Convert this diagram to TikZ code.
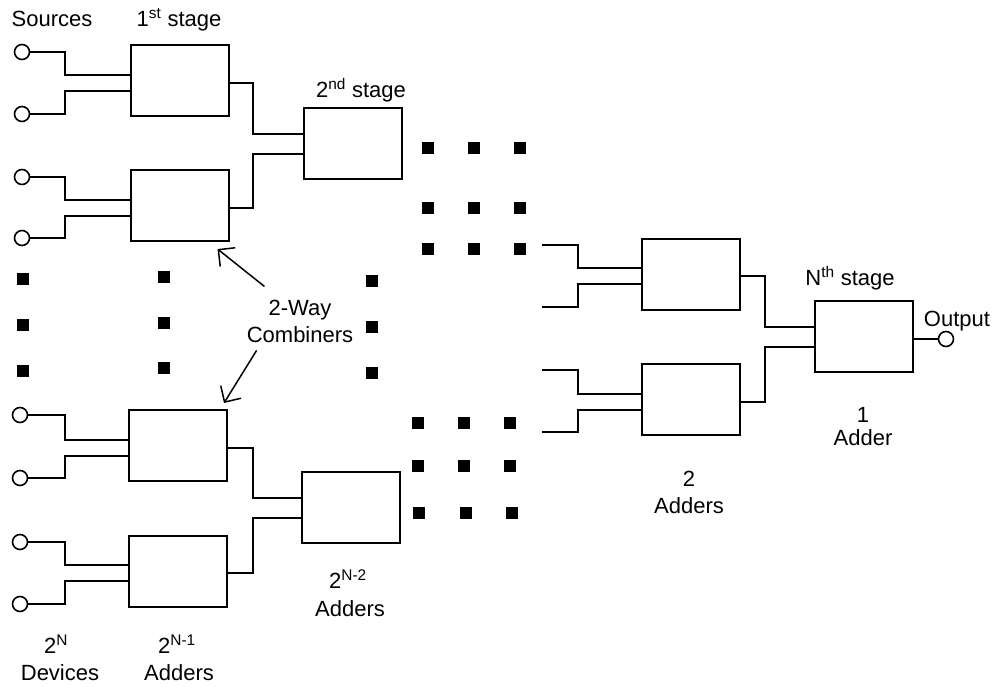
\documentclass[tikz,border=0pt]{standalone}
\usepackage{fontspec}
\setmainfont{Liberation Sans}
\usetikzlibrary{arrows.meta}
\begin{document}
\begin{tikzpicture}[x=1pt,y=-1pt,
  wire/.style={line width=2pt},
  adder/.style={draw,line width=2pt,rectangle,minimum width=98pt,minimum height=71pt,inner sep=0pt,outer sep=0pt},
  port/.style={draw,line width=1.6pt,circle,minimum size=15pt,inner sep=0pt,outer sep=0pt,fill=white},
  lbl/.style={font=\fontsize{22}{26}\selectfont,anchor=base,inner sep=0pt},
  dotsq/.style={fill=black},
  callout/.style={line width=1.5pt,-{Straight Barb[length=12pt,width=24pt,line width=1.5pt]}}
]
\useasboundingbox (0,0) rectangle (996,686);
% jog x positions
\coordinate (j1) at (65,0);
\coordinate (j2) at (253,0);
\coordinate (j3) at (578,0);
\coordinate (j4) at (765,0);
% sources
\node[port] (s1) at (22,52) {};
\node[port] (s2) at (22,114) {};
\node[port] (s3) at (22,177) {};
\node[port] (s4) at (22,238) {};
\node[port] (s5) at (20,415) {};
\node[port] (s6) at (20,478) {};
\node[port] (s7) at (20,542) {};
\node[port] (s8) at (20,604) {};
% adders
\node[adder] (b1) at (179.5,80.5) {};
\node[adder] (b2) at (179.5,205.5) {};
\node[adder] (c1) at (353,143.5) {};
\node[adder] (b3) at (178,445.5) {};
\node[adder] (b4) at (178,571) {};
\node[adder] (c2) at (351,507.5) {};
\node[adder] (ra) at (691,274) {};
\node[adder] (rb) at (691,399.5) {};
\node[adder] (rn) at (864,336.5) {};
\node[port] (out) at (946,339) {};
% free ends
\coordinate (fa1) at (542,245);
\coordinate (fa2) at (542,307);
\coordinate (fb1) at (542,370);
\coordinate (fb2) at (542,432);
% source wires
\draw[wire] (s1.east) -- (s1.east -| j1) |- ([shift={(0,-6)}]b1.west);
\draw[wire] (s2.east) -- (s2.east -| j1) |- ([shift={(0,10)}]b1.west);
\draw[wire] (s3.east) -- (s3.east -| j1) |- ([shift={(0,-6)}]b2.west);
\draw[wire] (s4.east) -- (s4.east -| j1) |- ([shift={(0,10)}]b2.west);
\draw[wire] (s5.east) -- (s5.east -| j1) |- ([shift={(0,-6)}]b3.west);
\draw[wire] (s6.east) -- (s6.east -| j1) |- ([shift={(0,10)}]b3.west);
\draw[wire] (s7.east) -- (s7.east -| j1) |- ([shift={(0,-6)}]b4.west);
\draw[wire] (s8.east) -- (s8.east -| j1) |- ([shift={(0,10)}]b4.west);
% stage 1 -> stage 2
\draw[wire] ([shift={(0,2)}]b1.east) -- ([shift={(0,2)}]b1.east -| j2) |- ([shift={(0,-9.5)}]c1.west);
\draw[wire] ([shift={(0,2)}]b2.east) -- ([shift={(0,2)}]b2.east -| j2) |- ([shift={(0,10)}]c1.west);
\draw[wire] ([shift={(0,2)}]b3.east) -- ([shift={(0,2)}]b3.east -| j2) |- ([shift={(0,-9.5)}]c2.west);
\draw[wire] ([shift={(0,2)}]b4.east) -- ([shift={(0,2)}]b4.east -| j2) |- ([shift={(0,10)}]c2.west);
% right side
\draw[wire] (fa1) -- (fa1 -| j3) |- ([shift={(0,-6)}]ra.west);
\draw[wire] (fa2) -- (fa2 -| j3) |- ([shift={(0,10)}]ra.west);
\draw[wire] (fb1) -- (fb1 -| j3) |- ([shift={(0,-6)}]rb.west);
\draw[wire] (fb2) -- (fb2 -| j3) |- ([shift={(0,10)}]rb.west);
\draw[wire] ([shift={(0,2)}]ra.east) -- ([shift={(0,2)}]ra.east -| j4) |- ([shift={(0,-9.5)}]rn.west);
\draw[wire] ([shift={(0,2)}]rb.east) -- ([shift={(0,2)}]rb.east -| j4) |- ([shift={(0,10.5)}]rn.west);
\draw[wire] ([shift={(0,2.5)}]rn.east) -- (out.west);
% dots
\foreach \x/\y in {428/148,474/148,520/148,428/208,474/208,520/208,428/249,474/249,520/249,
                   418/423,464/423,510/423,418/466,464/466,510/466,419/513,466/513,512/513,
                   23/279,23/325,23/371,164/277,164/323,164/368,372/281,372/327,372/373}
  \fill[dotsq] (\x-6.25,\y-6.25) rectangle (\x+6.25,\y+6.25);
% labels
\node[lbl] (tsrc) at (52,26) {Sources};
\node[lbl] (tst1) at (179,26) {1\textsuperscript{st} stage};
\node[lbl] (tst2) at (361,97) {2\textsuperscript{nd} stage};
\node[lbl] (tstn) at (850,285) {N\textsuperscript{th} stage};
\node[lbl] (tout) at (957,326) {Output};
\node[lbl] (tway) at (300,315) {2-Way};
\node[lbl] (tcomb) at (300,342) {Combiners};
\node[lbl] (tn1) at (863,422) {1};
\node[lbl] (tn1b) at (863,445) {Adder};
\node[lbl] (tn2) at (689,486) {2};
\node[lbl] (tn2b) at (689,513) {Adders};
\node[lbl] (tn3) at (348,588) {2\textsuperscript{N-2}};
\node[lbl] (tn3b) at (350,616) {Adders};
\node[lbl] (tn4) at (56,653) {2\textsuperscript{N}};
\node[lbl] (tn4b) at (60,680) {Devices};
\node[lbl] (tn5) at (177,653) {2\textsuperscript{N-1}};
\node[lbl] (tn5b) at (179,680) {Adders};
% callouts
\draw[callout] ([shift={(-4,-13)}]tway.north west) -- ([shift={(-11,8)}]b2.south east);
\draw[callout] ([shift={(10,8)}]tcomb.south west) -- ([shift={(-3,-7)}]b3.north east);
\end{tikzpicture}
\end{document}
